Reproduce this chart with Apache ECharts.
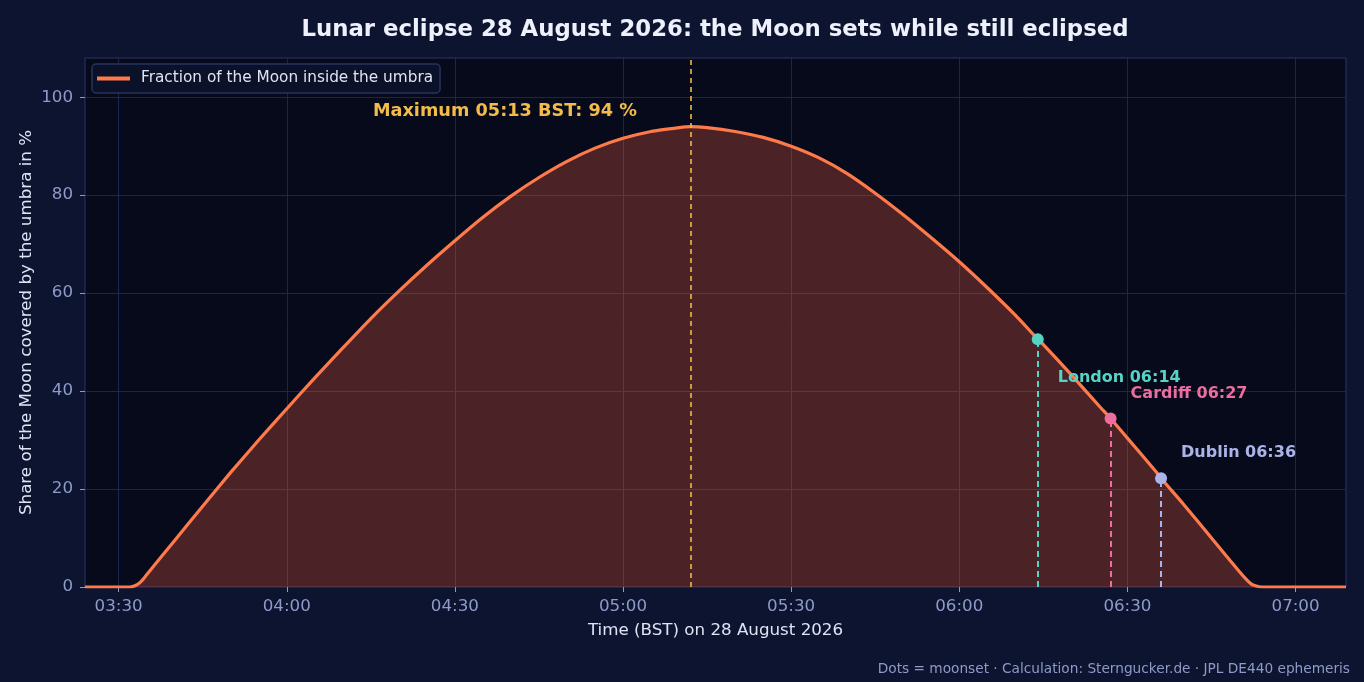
<!DOCTYPE html>
<html>
<head>
<meta charset="utf-8">
<title>Lunar eclipse 28 August 2026</title>
<script src="https://cdn.jsdelivr.net/npm/echarts@6/dist/echarts.min.js"></script>
<style>
  html, body { margin: 0; padding: 0; background: #0d1430; }
  #chart { width: 1364px; height: 682px; }
</style>
</head>
<body>
<div id="chart"></div>
<script>
// curve (BST)
const times = ['03:24', '03:30', '03:32', '03:33', '03:34', '03:35', '03:40', '03:45', '03:50', '03:55',
  '04:00', '04:05', '04:10', '04:15', '04:20', '04:25', '04:30', '04:35', '04:40', '04:45',
  '04:50', '04:55', '05:00', '05:05', '05:10', '05:12', '05:15', '05:20', '05:25', '05:30',
  '05:35', '05:40', '05:45', '05:50', '05:55', '06:00', '06:05', '06:10', '06:14', '06:15',
  '06:20', '06:25', '06:27', '06:30', '06:35', '06:36', '06:40', '06:45', '06:50', '06:51',
  '06:52', '06:53', '06:54', '07:09'];
const umbraPct = [0, 0, 0, 0.3, 1.1, 2.5, 9.5, 16.5, 23.4, 30.0,
  36.4, 42.7, 48.8, 54.8, 60.4, 65.7, 70.7, 75.5, 79.8, 83.6,
  86.9, 89.6, 91.6, 93.0, 93.8, 94.0, 93.8, 93.0, 91.8, 90.0,
  87.6, 84.4, 80.4, 76.0, 71.3, 66.4, 61.1, 55.5, 50.6, 49.5,
  43.3, 36.9, 34.4, 30.4, 23.7, 22.2, 16.9, 10.0, 3.1, 1.8,
  0.7, 0.2, 0, 0];

const cities = ['London', 'Cardiff', 'Dublin'];
const moonsetTimes = ['06:14', '06:27', '06:36'];
const moonsetPct = [50.6, 34.4, 22.2];
const cityColors = ['#55d3c3', '#ec6ea0', '#aab4e8'];

const maxTime = '05:12';
const maxText = 'Maximum 05:13 BST: 94 %';
const xTickLabels = ['03:30', '04:00', '04:30', '05:00', '05:30', '06:00', '06:30', '07:00'];
const yTickValues = [0, 20, 40, 60, 80, 100];
const xRange = ['03:24', '07:09'];

const seriesName = 'Fraction of the Moon inside the umbra';
const font = 'DejaVu Sans';

const toMin = s => { const p = s.split(':'); return +p[0] * 60 + +p[1]; };
const pad = n => (n < 10 ? '0' : '') + n;
const fmt = v => pad(Math.floor(v / 60)) + ':' + pad(Math.round(v % 60));

const curve = times.map((t, i) => [toMin(t), umbraPct[i]]);
const xTicks = xTickLabels.map(toMin);

// one scatter series per city, with its dashed drop line
const labelOffsets = [[9, 39], [9, -25], [9, -25]];
const citySeries = cities.map((c, i) => ({
  type: 'scatter',
  name: c,
  z: 5,
  symbolSize: 12,
  itemStyle: { color: cityColors[i], opacity: 1 },
  data: [[toMin(moonsetTimes[i]), moonsetPct[i]]],
  label: {
    show: true,
    position: 'right',
    offset: labelOffsets[i],
    formatter: c + ' ' + moonsetTimes[i],
    color: cityColors[i],
    textBorderWidth: 0,
    fontFamily: font,
    fontWeight: 'bold',
    fontSize: 16
  },
  markLine: {
    silent: true,
    symbol: 'none',
    label: { show: false },
    lineStyle: { color: cityColors[i], type: [6, 4], width: 2, opacity: 1 },
    data: [[{ coord: [toMin(moonsetTimes[i]), 0] }, { coord: [toMin(moonsetTimes[i]), moonsetPct[i]] }]]
  }
}));

const chart = echarts.init(document.getElementById('chart'));
chart.setOption({
  backgroundColor: '#0d1430',
  animation: false,
  title: {
    text: 'Lunar eclipse 28 August 2026: the Moon sets while still eclipsed',
    left: 710,
    textAlign: 'center',
    top: 14,
    textStyle: { color: '#eef1fb', fontFamily: font, fontWeight: 'bold', fontSize: 22.8 }
  },
  legend: {
    data: [seriesName],
    left: 92,
    top: 64,
    padding: [7, 7, 7, 5],
    itemWidth: 33,
    itemHeight: 4,
    itemGap: 8,
    icon: 'rect',
    backgroundColor: '#0b1128',
    borderColor: '#28335f',
    borderWidth: 1.5,
    borderRadius: 4,
    textStyle: { color: '#dfe4f5', fontFamily: font, fontSize: 15.3, padding: [0, 0, 0, 6] }
  },
  grid: {
    left: 85, right: 18, top: 58, bottom: 95,
    show: true,
    backgroundColor: '#060a1a',
    borderColor: '#2a3566',
    borderWidth: 1
  },
  xAxis: {
    type: 'value',
    min: toMin(xRange[0]),
    max: toMin(xRange[1]),
    name: 'Time (BST) on 28 August 2026',
    nameLocation: 'middle',
    nameGap: 35,
    nameMoveOverlap: false,
    nameTextStyle: { color: '#dfe4f5', fontFamily: font, fontSize: 16.7 },
    axisLine: { show: false },
    axisTick: { show: true, customValues: xTicks, length: 5, lineStyle: { color: '#8e9ac8' } },
    axisLabel: {
      customValues: xTicks,
      formatter: fmt,
      color: '#8e9ac8', fontFamily: font, fontSize: 16.7, margin: 11
    },
    splitLine: { show: true, lineStyle: { color: '#1c2450', width: 1 } }
  },
  yAxis: {
    type: 'value',
    min: 0,
    max: 108,
    interval: 20,
    name: 'Share of the Moon covered by the umbra in %',
    nameLocation: 'middle',
    nameGap: 50,
    nameMoveOverlap: false,
    nameTextStyle: { color: '#dfe4f5', fontFamily: font, fontSize: 16.7 },
    axisLine: { show: false },
    axisTick: { show: true, customValues: yTickValues, length: 5, lineStyle: { color: '#8e9ac8' } },
    axisLabel: { customValues: yTickValues, color: '#8e9ac8', fontFamily: font, fontSize: 16.7, margin: 12 },
    splitLine: { show: true, lineStyle: { color: '#1c2450', width: 1 } }
  },
  series: [
    {
      type: 'line',
      name: seriesName,
      data: curve,
      showSymbol: false,
      smooth: 0.2,
      z: 3,
      lineStyle: { color: '#ff7a4b', width: 3.2 },
      itemStyle: { color: '#ff7a4b' },
      areaStyle: { color: 'rgba(255,99,71,0.28)', opacity: 1 },
      markLine: {
        silent: true,
        symbol: 'none',
        label: { show: false },
        lineStyle: { color: '#f2bb4a', type: [5, 4], width: 1.6 },
        data: [{ xAxis: toMin(maxTime) }]
      },
      markPoint: {
        silent: true,
        symbol: 'circle',
        symbolSize: 0,
        label: {
          show: true,
          position: 'left',
          distance: 0,
          formatter: maxText,
          color: '#f2bb4a',
          fontFamily: font,
          fontWeight: 'bold',
          fontSize: 17.7
        },
        data: [{ coord: [toMin(maxTime) - 9.5, 97.2] }]
      }
    }
  ].concat(citySeries),
  graphic: [{
    type: 'text',
    right: 14,
    top: 662,
    style: {
      text: 'Dots = moonset · Calculation: Sterngucker.de · JPL DE440 ephemeris',
      fill: '#8e9ac8',
      font: '13.7px "DejaVu Sans"'
    }
  }]
});
</script>
</body>
</html>
